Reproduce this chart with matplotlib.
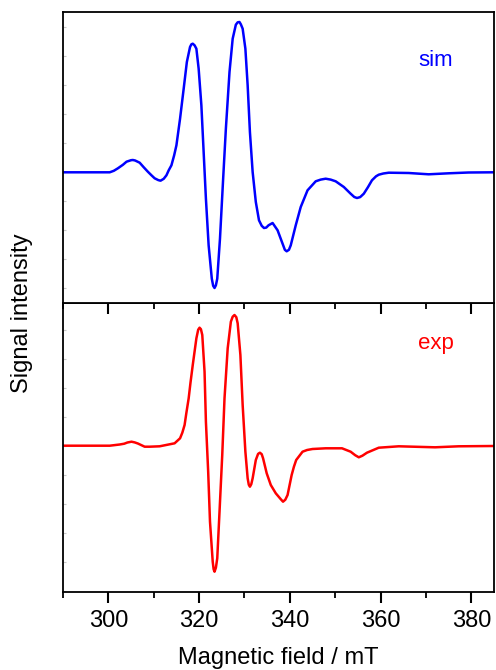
#!/usr/bin/env python3

import matplotlib
matplotlib.use("Agg")
import matplotlib.pyplot as plt
from matplotlib.ticker import MultipleLocator, NullFormatter


# simulated spectrum (field in mT, intensity in arb. units)
sim_field = [290.0, 300.3, 301.2, 302.1, 303.2, 304.0, 305.0, 305.4, 305.9,
             306.9, 307.8, 308.7, 309.5, 310.2, 311.0, 311.5, 312.2, 312.8,
             313.3, 313.9, 314.5, 315.0, 315.8, 316.6, 317.3, 318.0, 318.3,
             318.6, 319.0, 319.4, 319.9, 320.5, 321.0, 321.5, 322.1, 322.8,
             323.1, 323.4, 323.7, 324.0, 324.6, 325.3, 325.9, 326.7, 327.4,
             328.1, 328.5, 328.9, 329.2, 329.6, 330.2, 330.7, 331.2, 331.8,
             332.5, 333.2, 333.8, 334.3, 334.8, 335.3, 336.2, 337.3, 338.4,
             338.9, 339.3, 339.8, 340.2, 341.3, 342.4, 343.9, 345.7, 346.8,
             347.9, 349.0, 350.1, 351.9, 353.4, 354.2, 354.8, 355.5, 356.3,
             357.2, 358.1, 359.0, 359.6, 360.6, 361.8, 366.2, 370.6, 375.0,
             379.4, 385.0]
sim_int = [0, 0, 1.5, 4, 7.5, 10.6, 12.1, 12.3, 11.8,
           9.6, 5, 0.6, -3, -6, -7.8, -8.4, -6.5, -3,
           2, 7, 17, 27, 53.6, 83.6, 110.3, 125.3, 128,
           128.6, 127, 123.6, 103.6, 67, 20.3, -26.4, -73, -106.4,
           -113.5, -115.7, -113, -106.4, -66.4, -6.4, 43.6, 100.3, 133.6,
           147.6, 150, 150.3, 148, 143.6, 123.6, 87, 40.3, 0.3,
           -29.7, -48, -53.5, -55.7, -55.3, -53, -50.7, -58, -71.4,
           -77.5, -79, -77.5, -73, -53, -34.7, -18, -9, -7.3,
           -6.4, -7.3, -9, -14.7, -21.4, -24.7, -25.7, -24.8, -21.4,
           -15, -8, -4, -2.4, -1.2, -0.4, -0.7, -2, -1,
           -0.2, 0]

# experimental spectrum
exp_field = [290.0, 300.3, 302.5, 303.5, 304.2, 305.1, 305.8, 306.5, 308.0,
             309.1, 311.3, 314.6, 315.8, 316.3, 316.8, 317.2, 317.7, 318.1,
             318.6, 319.4, 319.8, 320.1, 320.4, 320.7, 321.2, 321.5, 322.0,
             322.4, 323.0, 323.2, 323.4, 323.7, 324.0, 324.5, 325.1, 325.6,
             326.3, 327.0, 327.4, 327.8, 328.2, 328.5, 329.1, 329.6, 330.2,
             330.7, 330.95, 331.2, 331.5, 331.8, 332.5, 333.0, 333.4, 333.8,
             334.1, 334.9, 335.8, 336.9, 338.0, 338.5, 339.0, 339.5, 340.4,
             340.9, 341.4, 342.8, 343.8, 345.0, 347.9, 351.5, 353.4, 354.4,
             355.2, 356.0, 357.0, 359.6, 364.0, 372.0, 377.2, 385.0]
exp_int = [0, 0, 1.2, 2, 3.2, 4, 3.3, 2.2, -1,
           -1, -0.6, 2.4, 7.4, 13, 20.7, 33, 47.4, 63,
           80.7, 107.4, 116, 118, 116.5, 110.7, 74, 24, -26,
           -76, -116, -123.5, -126, -122, -112.6, -66, -9.3, 47.4,
           97.4, 124, 129, 130.7, 128.5, 122.4, 90.7, 40.7, -6,
           -32.6, -39, -41, -38.5, -32.6, -14.3, -8.2, -7, -8.5,
           -12.6, -27.6, -39.3, -47.6, -53.5, -56, -54, -49.3, -29.3,
           -21, -14.3, -6, -4.3, -3.3, -2.6, -2.6, -6, -9.5,
           -11.6, -10, -7, -2, -0.6, -1.6, -0.6, -0.3]


plt.rcParams['font.family'] = ['Liberation Sans', 'DejaVu Sans']

fig = plt.figure(figsize=(4.96, 6.70), dpi=100)
ax1 = fig.add_axes([63 / 496, 1 - 303 / 670, 431 / 496, 291 / 670])
ax2 = fig.add_axes([63 / 496, 1 - 592 / 670, 431 / 496, 289 / 670])
ax1.set_zorder(3)

ax1.plot(sim_field, sim_int, color='#0000ff', lw=1.8,
         solid_joinstyle='round')
ax2.plot(exp_field, exp_int, color='#ff0000', lw=1.8,
         solid_joinstyle='round')

ax1.set_ylim(-130.7, 160.3)
ax2.set_ylim(-146.3, 142.7)

for ax in (ax1, ax2):
    ax.set_xlim(290, 385)
    ax.xaxis.set_major_locator(MultipleLocator(20))
    ax.xaxis.set_minor_locator(MultipleLocator(10))
    ax.yaxis.set_major_locator(MultipleLocator(29))
    ax.yaxis.set_major_formatter(NullFormatter())
    for s in ax.spines.values():
        s.set_linewidth(1.3)
    ax.tick_params(axis='x', which='major', direction='out', length=8,
                   width=1.5, labelsize=17, pad=5)
    ax.tick_params(axis='x', which='minor', direction='out', length=4,
                   width=1.3)
    ax.tick_params(axis='y', which='major', direction='in', length=2,
                   width=0.8, color='#c8c8c8', left=True, right=False)
    ax.tick_params(top=False, which='both')

ax1.tick_params(axis='x', labelbottom=False)

ax1.text(372.1, 112, 'sim', color='#0000ff', fontsize=16, ha='center',
         va='center')
ax2.text(372.1, 102, 'exp', color='#ff0000', fontsize=16, ha='center',
         va='center')

ax2.set_xlabel('Magnetic field / mT', fontsize=17, labelpad=11)
fig.text(22 / 496, 1 - 313 / 670, 'Signal intensity', rotation=90,
         fontsize=17, ha='center', va='center')

fig.savefig('out.png', dpi=100)
